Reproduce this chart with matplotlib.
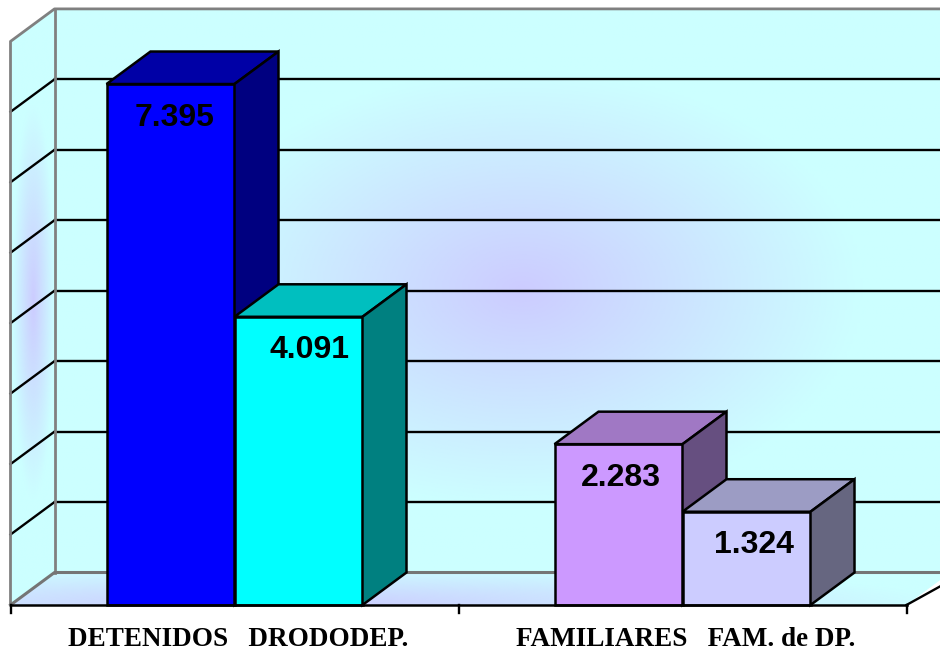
import numpy as np
import matplotlib
matplotlib.use('Agg')
import matplotlib.pyplot as plt
from matplotlib.patches import Polygon
from matplotlib.colors import LinearSegmentedColormap

categories = ['DETENIDOS   DRODODEP.', 'FAMILIARES   FAM. de DP.']
left_values = [7395, 2283]
right_values = [4091, 1324]
left_labels = ['7.395', '2.283']
right_labels = ['4.091', '1.324']
grid_values = [1000, 2000, 3000, 4000, 5000, 6000, 7000]

left_colors = [('#0000FF', '#0000A6', '#000080'), ('#CC99FF', '#A078C4', '#664F80')]
right_colors = [('#00FFFF', '#00BFBF', '#008080'), ('#CCCCFF', '#9C9CC4', '#666680')]

# pixel scale of the picture
px_x = 448.0
px_y = 0.07045
depth_x = 44 / px_x
depth_y = 32.5 / px_y
bar_w = 128 / px_x
y_max = 8000
x_0 = -0.5


def gradient(ax, extent, shape, cmap, center, radius, zorder=1):
    xx, yy = np.meshgrid(np.linspace(extent[0], extent[1], 300), np.linspace(extent[2], extent[3], 300))
    t = np.clip(1 - np.sqrt(((xx - center[0]) / radius[0]) ** 2 + ((yy - center[1]) / radius[1]) ** 2), 0, 1)
    im = ax.imshow(t, extent=extent, origin='lower', aspect='auto', cmap=cmap, vmin=0, vmax=1, zorder=zorder)
    poly = Polygon(shape, closed=True, transform=ax.transData, facecolor='none', edgecolor='none')
    ax.add_patch(poly)
    im.set_clip_path(poly)


def bar_3d(ax, x, value, colors):
    ax.bar(x, value, bar_w, align='edge', color=colors[0], edgecolor='black', linewidth=1.8, zorder=4)
    top = [(x, value), (x + depth_x, value + depth_y), (x + bar_w + depth_x, value + depth_y), (x + bar_w, value)]
    side = [(x + bar_w, 0), (x + bar_w + depth_x, depth_y), (x + bar_w + depth_x, value + depth_y), (x + bar_w, value)]
    ax.add_patch(Polygon(top, closed=True, facecolor=colors[1], edgecolor='black', linewidth=1.8, zorder=4))
    ax.add_patch(Polygon(side, closed=True, facecolor=colors[2], edgecolor='black', linewidth=1.8, zorder=4))


fig = plt.figure(figsize=(9.4, 6.51), dpi=100)
ax = fig.add_axes([0, 0, 1, 1])
ax.axis('off')

x_low = -234.5 / px_x
x_high = (940 - 234.5) / px_x
y_low = -(651 - 605) / px_y
y_high = 605 / px_y
x_far = x_high + 0.2

wall_cmap = LinearSegmentedColormap.from_list('wall', [(0, '#CCFFFF'), (0.2, '#CCFFFF'), (1, '#CCCCFF')])
floor_cmap = LinearSegmentedColormap.from_list('floor', ['#CCFFFF', '#CCCCFF'])

# back wall, side wall, floor
back = [(x_0 + depth_x, depth_y), (x_far, depth_y), (x_far, y_max + depth_y), (x_0 + depth_x, y_max + depth_y)]
gradient(ax, (x_0 + depth_x, x_far, depth_y, y_max + depth_y), back, wall_cmap, (0.64, 4470), (0.95, 3900))
side = [(x_0, 0), (x_0 + depth_x, depth_y), (x_0 + depth_x, y_max + depth_y), (x_0, y_max)]
gradient(ax, (x_0, x_0 + depth_x, 0, y_max + depth_y), side, wall_cmap, (x_0 + 0.05, 4300), (0.06, 3500))
floor = [(x_0, 0), (x_0 + depth_x, depth_y), (x_far, depth_y), (1.5 + depth_x * 1.5, depth_y * 1.5), (1.5, 0)]
gradient(ax, (x_0, x_far, 0, depth_y * 1.5), floor, floor_cmap, (0.1, 0), (1.5, 560))

for val in grid_values:
    ax.plot([x_0, x_0 + depth_x], [val, val + depth_y], color='black', lw=1.7, zorder=2)
    ax.plot([x_0 + depth_x, x_far], [val + depth_y, val + depth_y], color='black', lw=1.7, zorder=2)

wall_edge = '#808080'
ax.plot([x_0, x_0, x_0 + depth_x, x_far], [0, y_max, y_max + depth_y, y_max + depth_y], color=wall_edge, lw=2, zorder=2)
ax.plot([x_0 + depth_x, x_0 + depth_x], [depth_y, y_max + depth_y], color=wall_edge, lw=2, zorder=2)
ax.plot([x_0, x_0 + depth_x, x_far], [0, depth_y, depth_y], color='#757575', lw=2.2, zorder=2)

for ii in range(len(categories)):
    bar_3d(ax, ii - bar_w, left_values[ii], left_colors[ii])
    bar_3d(ax, ii, right_values[ii], right_colors[ii])

# front axis with its ticks
ax.plot([x_0, 1.5], [0, 0], color='black', lw=1.8, zorder=5)
ax.plot([1.5, 1.5 + depth_x], [0, depth_y * 0.75], color='black', lw=1.7, zorder=5)
for tick in [-0.5, 0.5, 1.5]:
    ax.plot([tick, tick], [0, -120], color='black', lw=1.7, zorder=5)

# value labels sit a bit right of the bar centre
label_shift = [(4, 11), (2, 7)]
for ii in range(len(categories)):
    ax.text(ii - bar_w / 2 + label_shift[ii][0] / px_x, left_values[ii] - 34 / px_y, left_labels[ii],
            ha='center', va='center', fontsize=23, fontweight='bold', family='Liberation Sans', color='black', zorder=6)
    ax.text(ii + bar_w / 2 + label_shift[ii][1] / px_x, right_values[ii] - 33 / px_y, right_labels[ii],
            ha='center', va='center', fontsize=23, fontweight='bold', family='Liberation Sans', color='black', zorder=6)
    ax.text(ii + 0.008, -34.5 / px_y, categories[ii], ha='center', va='center', fontsize=19.5, fontweight='bold',
            family='Liberation Serif', color='black', zorder=6)

ax.set_xlim(x_low, x_high)
ax.set_ylim(y_low, y_high)
fig.savefig('out.png', dpi=100)
